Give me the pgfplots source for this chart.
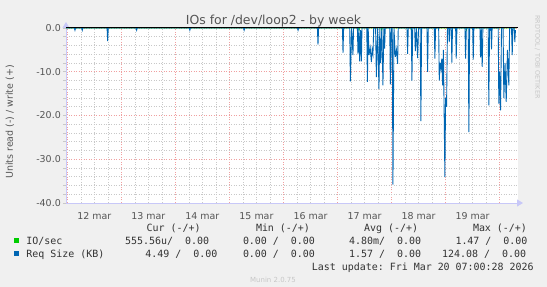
\documentclass[border=0pt]{standalone}
\usepackage{fontspec}
\setmainfont{DejaVu Sans}
\newfontfamily\mono{DejaVu Sans Mono}
\usepackage{pgfplots}
\pgfplotsset{compat=1.18}
\usetikzlibrary{arrows.meta}
\definecolor{bg}{HTML}{F0F0F0}
\definecolor{txt}{HTML}{333333}
\definecolor{titlecol}{HTML}{555555}
\definecolor{minorgrid}{HTML}{C8C8C8}
\definecolor{majorgrid}{HTML}{F0A0A0}
\definecolor{axiscol}{HTML}{C8C8F8}
\definecolor{iocol}{HTML}{00CC00}
\definecolor{reqcol}{HTML}{0066B3}
\begin{document}
\begin{tikzpicture}
\useasboundingbox (0,0) rectangle (547bp,287bp);
\fill[bg] (0,0) rectangle (547bp,287bp);
\begin{axis}[
  at={(66bp,84bp)}, anchor=south west, scale only axis,
  width=452bp, height=175bp,
  xmin=11.976, xmax=20.34, ymin=-40, ymax=0,
  axis lines=left,
  axis line style={draw=axiscol, line width=0.8bp},
  x axis line style={-{Triangle[length=6bp,width=7bp]}, shorten >=-5bp},
  y axis line style={-{Triangle[length=6bp,width=7bp]}, shorten >=-6bp},
  axis background/.style={fill=white},
  xtick={12,13,14,15,16,17,18,19,20}, xticklabels={},
  extra x ticks={12.5,13.5,14.5,15.5,16.5,17.5,18.5,19.5},
  extra x tick labels={12 mar,13 mar,14 mar,15 mar,16 mar,17 mar,18 mar,19 mar},
  extra x tick style={grid=none},
  minor x tick num=3,
  ytick={-40,-30,-20,-10,0}, yticklabels={-40.0,-30.0,-20.0,-10.0,0.0},
  minor y tick num=4,
  grid=both,
  major grid style={draw=majorgrid, dash pattern=on 1bp off 1.5bp, line width=0.6bp},
  minor grid style={draw=minorgrid, dash pattern=on 1bp off 1.5bp, line width=0.6bp},
  tick align=outside,
  xtick style={draw=none},
  ytick style={draw=minorgrid, line width=0.6bp},
  major tick length=3bp, minor tick length=3bp,
  ticklabel style={font=\fontsize{9.5}{11}\selectfont, text=titlecol},
  yticklabel style={inner sep=0pt, xshift=-2bp},
  xticklabel style={inner sep=0pt, yshift=-6bp},
]
\addplot[iocol, line width=1bp] coordinates {
(11.976,0)(17.100,0)(17.109,-0.4)(17.118,0)(17.390,0)(17.399,-0.4)(17.408,0)
(17.808,0)(17.817,-0.4)(17.826,0)(18.357,0)(18.366,-0.4)(18.375,0)
(19.376,0)(19.385,-0.4)(19.394,0)(19.808,0)(19.817,-0.4)(19.826,0)(20.30,0)
};
\addplot[reqcol, line width=0.9bp] coordinates {
(11.976,0)
(12.131,0)(12.142,-0.5)(12.153,0)
(12.266,0)(12.277,-0.5)(12.288,0)
(12.736,0)(12.747,-3.0)(12.758,0)
(13.272,0)(13.283,-0.5)(13.294,0)
(14.257,0)(14.268,-0.5)(14.279,0)
(15.261,0)(15.272,-0.5)(15.283,0)
(16.259,0)(16.270,-0.5)(16.281,0)
(16.628,0)(16.639,-3.8)(16.650,0)
(17.091,0)(17.102,-5.7)(17.113,0)
(17.227,0)(17.238,-12.2)(17.262,0)(17.286,-6.2)(17.297,0)
(17.368,0)(17.379,-6.0)(17.395,0)(17.410,-7.6)(17.426,-0.5)(17.442,-7.6)(17.453,0)
(17.542,0)(17.553,-12.3)(17.568,0)(17.582,-6.2)(17.605,-4.5)(17.627,-7.8)(17.641,-5)(17.656,-6.0)(17.670,0)(17.705,0)(17.719,-11.2)(17.743,0)(17.767,-13.9)(17.783,0)(17.798,-8)(17.820,0)(17.841,-13.1)(17.857,0)(17.872,-4.7)(17.883,0)
(17.967,0)(17.978,-12.9)(17.995,0)(18.013,0)(18.026,-35.8)(18.045,0)(18.070,-6.6)(18.090,-5)(18.113,-8.2)(18.124,0)
(18.286,0)(18.297,-5.9)(18.310,0)(18.366,0)(18.377,-12)(18.392,0)(18.428,0)(18.440,-5.3)(18.460,0)(18.482,-6.9)(18.500,0)(18.530,0)(18.543,-21.3)(18.556,0)
(18.656,0)(18.667,-10)(18.680,0)
(18.791,0)(18.802,-7)(18.815,0)
(18.872,0)(18.883,-12)(18.898,-8)(18.913,-9.3)(18.930,-7)(18.944,-13.1)(18.960,-5)(18.987,-34.1)(19.000,-16)(19.018,-18)(19.035,0)(19.057,0)(19.068,-3.2)(19.080,0)
(19.105,0)(19.116,-7.9)(19.128,0)
(19.186,0)(19.197,-7)(19.210,0)
(19.359,0)(19.370,-7)(19.384,0)(19.419,0)(19.431,-23.8)(19.445,0)
(19.501,0)(19.512,-7.2)(19.523,0)
(19.636,0)(19.647,-6.7)(19.660,0)(19.678,-8.9)(19.690,0)
(19.789,0)(19.800,-17.7)(19.814,0)(19.838,0)(19.850,-4.9)(19.861,0)
(19.974,0)(19.985,-17.3)(20.000,-10)(20.017,-18.8)(20.035,0)(20.064,0)(20.078,-16)(20.100,-8)(20.122,-16.9)(20.145,-5)(20.170,-13.1)(20.185,0)(20.220,0)(20.233,-6.2)(20.245,0)(20.270,0)(20.281,-3.2)(20.293,-0.5)
};
\addplot[black, line width=1bp] coordinates {(11.976,0)(20.34,0)};
\end{axis}
% title and labels
\node[anchor=base, inner sep=0pt, font=\fontsize{12.5}{14}\selectfont, text=titlecol] at (273.5bp,262.6bp) {IOs for /dev/loop2 - by week};
\node[rotate=90, inner sep=0pt, font=\fontsize{9.5}{11}\selectfont, text=titlecol] at (10bp,165bp) {Units read (-) / write (+)};
\node[rotate=-90, anchor=west, inner sep=0pt, font=\fontsize{6.5}{8}\selectfont, text=black!22] at (537.5bp,272bp) {RRDTOOL / TOBI OETIKER};
% legend
\begin{scope}[every node/.style={anchor=base west, inner sep=0pt, font=\mono\fontsize{10}{12}\selectfont, text=txt}]
\node at (146.5bp,55bp) {Cur~(-/+)};
\node at (255.8bp,55bp) {Min~(-/+)};
\node at (364bp,55bp) {Avg~(-/+)};
\node at (472.8bp,55bp) {Max~(-/+)};
\node at (26.2bp,42bp) {IO/sec};
\node at (124.9bp,42bp) {555.56u/~~0.00};
\node at (242.8bp,42bp) {0.00~/~~0.00};
\node at (348.9bp,42bp) {4.80m/~~0.00};
\node at (455.3bp,42bp) {1.47~/~~0.00};
\node at (26.2bp,29.5bp) {Req~Size~(KB)};
\node at (145.1bp,29.5bp) {4.49~/~~0.00};
\node at (242.8bp,29.5bp) {0.00~/~~0.00};
\node at (348.9bp,29.5bp) {1.57~/~~0.00};
\node at (442bp,29.5bp) {124.08~/~~0.00};
\node at (311.6bp,17bp) {Last~update:~Fri~Mar~20~07:00:28~2026};
\end{scope}
\fill[iocol] (13.8bp,43.5bp) rectangle (19bp,48.7bp);
\fill[reqcol] (13.8bp,31bp) rectangle (19bp,36.2bp);
\node[anchor=base, inner sep=0pt, font=\fontsize{7}{8}\selectfont, text=black!22] at (273bp,5bp) {Munin 2.0.75};
\end{tikzpicture}
\end{document}
